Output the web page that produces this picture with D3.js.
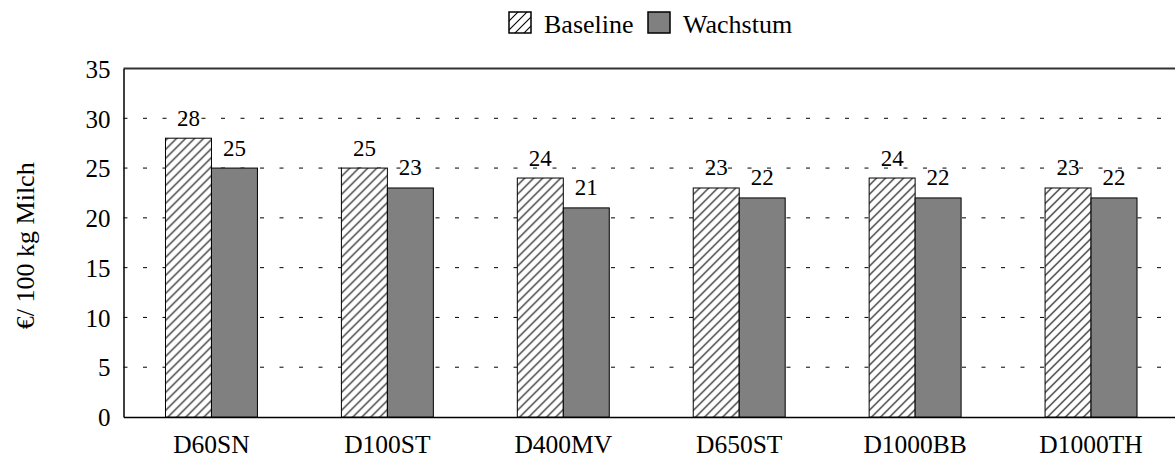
<!DOCTYPE html>
<html>
<head>
<meta charset="utf-8">
<script src="https://cdn.jsdelivr.net/npm/d3@7"></script>
<style>
  body { margin: 0; background: #fff; }
  text { font-family: "Liberation Serif", "Times New Roman", serif; fill: #000; }
</style>
</head>
<body>
<div id="chart"></div>
<script>
// data
var categories = ["D60SN", "D100ST", "D400MV", "D650ST", "D1000BB", "D1000TH"];
var series = ["Baseline", "Wachstum"];
var baseline = [28, 25, 24, 23, 24, 23];
var wachstum = [25, 23, 21, 22, 22, 22];
var yTicks = [0, 5, 10, 15, 20, 25, 30, 35];

var serif = "Liberation Serif, Times New Roman, serif";

var W = 1175, H = 457;
var margin = {top: 68.5, right: -4, bottom: 40, left: 123.5},
    width = W - margin.left - margin.right,
    height = H - margin.top - margin.bottom;

var svg = d3.select("#chart").append("svg")
    .attr("width", W)
    .attr("height", H);

// hatch pattern for the baseline bars
var defs = svg.append("defs");
var pat = defs.append("pattern")
    .attr("id", "hatch")
    .attr("patternUnits", "userSpaceOnUse")
    .attr("width", 9)
    .attr("height", 9);
pat.append("rect").attr("width", 9).attr("height", 9).attr("fill", "#fff");
pat.append("path")
    .attr("d", "M-1,1 l2,-2 M0,9 l9,-9 M8,10 l2,-2")
    .attr("stroke", "#000")
    .attr("stroke-width", 1.1);

var color = {Baseline: "url(#hatch)", Wachstum: "#808080"};

var g = svg.append("g")
    .attr("transform", "translate(" + margin.left + "," + margin.top + ")");

// scales
var x0 = d3.scaleBand()
    .domain(categories)
    .range([0, width])
    .paddingInner(0.4773)
    .paddingOuter(0.4773 / 2);

var x1 = d3.scaleBand()
    .domain(series)
    .range([0, x0.bandwidth()]);

var y = d3.scaleLinear()
    .domain([0, 35])
    .range([height, 0]);

// dashed gridlines
g.append("g")
  .selectAll("line")
  .data(yTicks.filter(function(d) { return d > 0 && d < 35; }))
  .enter().append("line")
    .attr("x1", 0)
    .attr("x2", width)
    .attr("y1", function(d) { return y(d); })
    .attr("y2", function(d) { return y(d); })
    .attr("stroke", "#000")
    .attr("stroke-width", 1)
    .attr("stroke-dasharray", "4,15.5");

// frame top
g.append("line")
    .attr("x1", 0).attr("x2", width)
    .attr("y1", 0).attr("y2", 0)
    .attr("stroke", "#333")
    .attr("stroke-width", 2);

// Y axis
var yAxis = g.append("g")
    .call(d3.axisLeft(y).tickValues(yTicks).tickSize(0).tickPadding(13));
yAxis.select(".domain").attr("stroke", "#000").attr("stroke-width", 1.5);
yAxis.selectAll("text")
    .style("font-family", serif)
    .style("font-size", "25px")
    .attr("dy", "0.35em");

// X axis
var xAxis = g.append("g")
    .attr("transform", "translate(0," + height + ")")
    .call(d3.axisBottom(x0).tickSize(0));
xAxis.select(".domain").attr("stroke", "#000").attr("stroke-width", 1.5);
xAxis.selectAll("text")
    .style("font-family", serif)
    .style("font-size", "25.5px")
    .attr("y", 35.5)
    .attr("dy", 0);

// Y axis title
svg.append("text")
    .attr("transform", "translate(34," + (margin.top + height / 2 + 3) + ") rotate(-90)")
    .attr("text-anchor", "middle")
    .style("font-family", serif)
    .style("font-size", "26px")
    .text("€/ 100 kg Milch");

// bars
var rows = categories.map(function(c, i) {
    return {cat: c, values: [
        {key: "Baseline", value: baseline[i]},
        {key: "Wachstum", value: wachstum[i]}
    ]};
});

var groups = g.append("g")
  .selectAll("g")
  .data(rows)
  .enter().append("g")
    .attr("transform", function(d) { return "translate(" + x0(d.cat) + ",0)"; });

groups.selectAll("rect")
  .data(function(d) { return d.values; })
  .enter().append("rect")
    .attr("x", function(d) { return x1(d.key); })
    .attr("y", function(d) { return y(d.value); })
    .attr("width", x1.bandwidth())
    .attr("height", function(d) { return y(0) - y(d.value); })
    .attr("fill", function(d) { return color[d.key]; })
    .attr("stroke", "#000")
    .attr("stroke-width", 1);

// value labels
groups.selectAll(".val")
  .data(function(d) { return d.values; })
  .enter().append("text")
    .attr("class", "val")
    .attr("x", function(d) { return x1(d.key) + x1.bandwidth() / 2; })
    .attr("y", function(d) { return y(d.value) - 12.5; })
    .attr("text-anchor", "middle")
    .style("font-family", serif)
    .style("font-size", "23px")
    .text(function(d) { return d.value; });

// legend
var legendX = [509, 648];
var legend = svg.selectAll(".legend")
  .data(series)
  .enter().append("g")
    .attr("class", "legend")
    .attr("transform", function(d, i) { return "translate(" + legendX[i] + ",12)"; });
legend.append("rect")
    .attr("width", 22)
    .attr("height", 21)
    .attr("fill", function(d) { return color[d]; })
    .attr("stroke", "#000")
    .attr("stroke-width", 1.5);
legend.append("text")
    .attr("x", 35)
    .attr("y", 21)
    .style("font-family", serif)
    .style("font-size", "26px")
    .text(function(d) { return d; });
</script>
</body>
</html>
